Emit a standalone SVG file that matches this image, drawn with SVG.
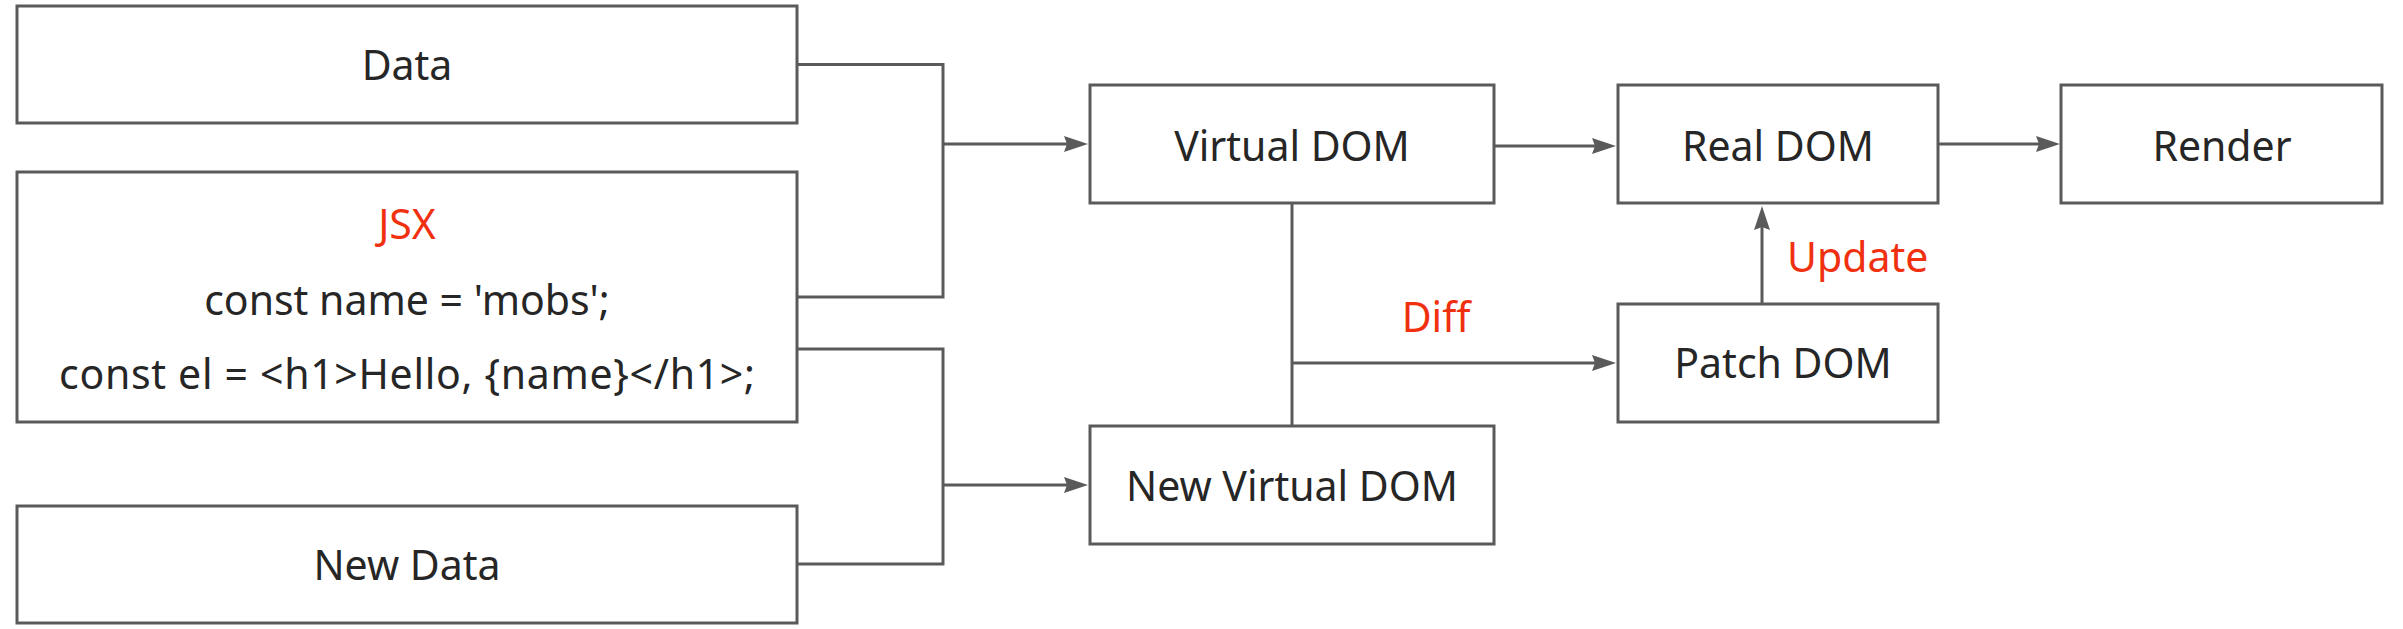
<svg xmlns="http://www.w3.org/2000/svg" width="2403" height="629" viewBox="0 0 2403 629">
<style>
.box{fill:#ffffff;stroke:#5a5a5a;stroke-width:3}
.t{font-family:"Noto Sans","Open Sans","Liberation Sans",sans-serif;font-size:41px;fill:#262626;text-anchor:middle}
.r{fill:#f0300f}
.c{fill:none;stroke:#5a5a5a;stroke-width:3}
</style>
<defs>
<marker id="ah" markerUnits="userSpaceOnUse" markerWidth="24" markerHeight="16" viewBox="0 0 24 16" refX="14" refY="8" orient="auto">
<path d="M0,0 L24,8 L0,16 L3,8 z" fill="#5a5a5a"/>
</marker>
</defs>
<rect width="2403" height="629" fill="#ffffff"/>
<g id="connectors">
<path class="c" d="M797,64.5 H943 V297 H797"/>
<path class="c" d="M943,144 H1078" marker-end="url(#ah)"/>
<path class="c" d="M797,349 H943 V564 H797"/>
<path class="c" d="M943,485 H1078" marker-end="url(#ah)"/>
<path class="c" d="M1494,146 H1606" marker-end="url(#ah)"/>
<path class="c" d="M1938,144 H2050" marker-end="url(#ah)"/>
<path class="c" d="M1292,203 V426"/>
<path class="c" d="M1292,363 H1606" marker-end="url(#ah)"/>
<path class="c" d="M1762,304 V216" marker-end="url(#ah)"/>
<text class="t r" x="1436" y="332">Diff</text>
<text class="t r" x="1787" y="272" style="text-anchor:start">Update</text>
</g>
<g id="data">
<rect class="box" x="17" y="6" width="780" height="117"/>
<text class="t" x="407" y="80">Data</text>
</g>
<g id="jsx">
<rect class="box" x="17" y="172" width="780" height="250"/>
<text class="t r" x="407" y="239">JSX</text>
<text class="t" x="407" y="315">const name = 'mobs';</text>
<text class="t" x="407" y="389" textLength="696" lengthAdjust="spacing">const el = &lt;h1&gt;Hello, {name}&lt;/h1&gt;;</text>
</g>
<g id="newdata">
<rect class="box" x="17" y="506" width="780" height="117"/>
<text class="t" x="407" y="580">New Data</text>
</g>
<g id="vdom">
<rect class="box" x="1090" y="85" width="404" height="118"/>
<text class="t" x="1292" y="161">Virtual DOM</text>
</g>
<g id="newvdom">
<rect class="box" x="1090" y="426" width="404" height="118"/>
<text class="t" x="1292" y="501">New Virtual DOM</text>
</g>
<g id="realdom">
<rect class="box" x="1618" y="85" width="320" height="118"/>
<text class="t" x="1778" y="161">Real DOM</text>
</g>
<g id="render">
<rect class="box" x="2061" y="85" width="321" height="118"/>
<text class="t" x="2222" y="161">Render</text>
</g>
<g id="patchdom">
<rect class="box" x="1618" y="304" width="320" height="118"/>
<text class="t" x="1783" y="378">Patch DOM</text>
</g>
</svg>
